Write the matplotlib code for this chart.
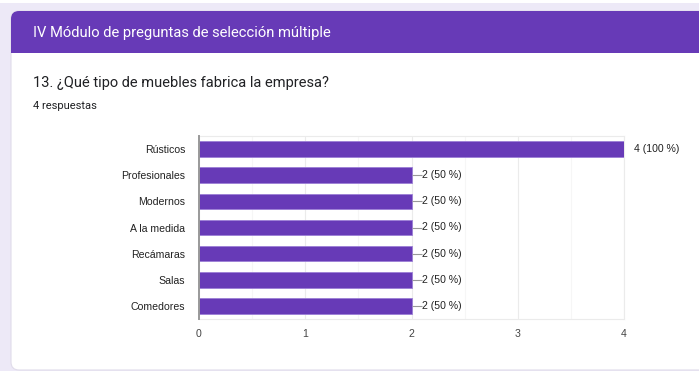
import matplotlib.pyplot as plt
from matplotlib.patches import FancyBboxPatch, Rectangle

# survey answers for question 13
categories = ["Rústicos", "Profesionales", "Modernos", "A la medida",
              "Recámaras", "Salas", "Comedores"]
counts = [4, 2, 2, 2, 2, 2, 2]
total_responses = 4
x_ticks = [0, 1, 2, 3, 4]

header_text = "IV Módulo de preguntas de selección múltiple"
question_text = "13. ¿Qué tipo de muebles fabrica la empresa?"
responses_text = "%d respuestas" % total_responses

PURPLE = "#673ab7"
W, H = 699, 371

fig = plt.figure(figsize=(W / 100, H / 100), dpi=100)
fig.patch.set_facecolor("#ffffff")

# page background and the card on top of it
bg = fig.add_axes([0, 0, 1, 1], zorder=-10)
bg.set_xlim(0, W)
bg.set_ylim(H, 0)
bg.axis("off")
bg.add_patch(Rectangle((0, 3), W, H, facecolor="#ede9f7", edgecolor="none"))
bg.add_patch(FancyBboxPatch((11, 11), W + 20, 359, boxstyle="round,pad=0,rounding_size=8",
                            facecolor="white", edgecolor="#e0dcea", linewidth=0.8))
bg.add_patch(FancyBboxPatch((11, 11), W + 20, 42, boxstyle="round,pad=0,rounding_size=8",
                            facecolor=PURPLE, edgecolor="none"))
bg.add_patch(Rectangle((11, 30), W + 20, 23, facecolor=PURPLE, edgecolor="none"))

bg.text(33, 33, header_text, color="white", fontsize=10.6, family="Roboto",
        va="center", ha="left")
bg.text(33, 83, question_text, color="#202124", fontsize=10.5, family="Roboto",
        va="center", ha="left")
bg.text(33, 106, responses_text, color="#202124", fontsize=8.0, family="Roboto",
        va="center", ha="left")

# bar chart
left, right, top, bottom = 199, 624, 136, 319
ax = fig.add_axes([left / W, 1 - bottom / H, (right - left) / W, (bottom - top) / H])
ypos = list(range(len(categories)))
ax.barh(ypos, counts, height=0.6, color=PURPLE, edgecolor="#9c7fd6", linewidth=0.6, zorder=3)
ax.set_ylim(len(categories) - 0.5, -0.5)
ax.set_xlim(0, 4)

ax.set_xticks(x_ticks)
ax.set_xticks([0.5, 1.5, 2.5, 3.5], minor=True)
ax.set_yticks(ypos)
ax.set_yticklabels(categories)
ax.tick_params(axis="both", which="both", length=0)
ax.tick_params(axis="y", pad=10, labelsize=7.6, labelcolor="#222222")
ax.tick_params(axis="x", pad=7, labelsize=7.6, labelcolor="#444444")
for lbl in ax.get_xticklabels() + ax.get_yticklabels():
    lbl.set_family("Liberation Sans")

ax.grid(axis="x", which="major", color="#ebebeb", linewidth=0.8, zorder=0)
ax.grid(axis="x", which="minor", color="#f6f6f6", linewidth=0.8, zorder=0)
for side in ["top", "right", "bottom"]:
    ax.spines[side].set_color("#ebebeb")
    ax.spines[side].set_linewidth(0.8)
ax.spines["left"].set_color("#999999")
ax.spines["left"].set_linewidth(1.4)
ax.spines["left"].set_zorder(4)

# value labels; short bars get a small leader line touching the text
lead = 10 / ((right - left) / 4)   # 10 px expressed in data units
for y, c in zip(ypos, counts):
    label = "%d (%d %%)" % (c, round(100 * c / total_responses))
    if c >= max(counts):
        ax.text(c + lead, y, label, va="center", ha="left", fontsize=7.6,
                color="#222222", family="Liberation Sans", clip_on=False)
    else:
        ax.plot([c, c + lead], [y, y], color="#999999", lw=0.8, zorder=4,
                solid_capstyle="butt")
        ax.text(c + lead, y, label, va="center", ha="left", fontsize=7.6,
                color="#222222", family="Liberation Sans", clip_on=False)

fig.savefig("out.png", dpi=100)
